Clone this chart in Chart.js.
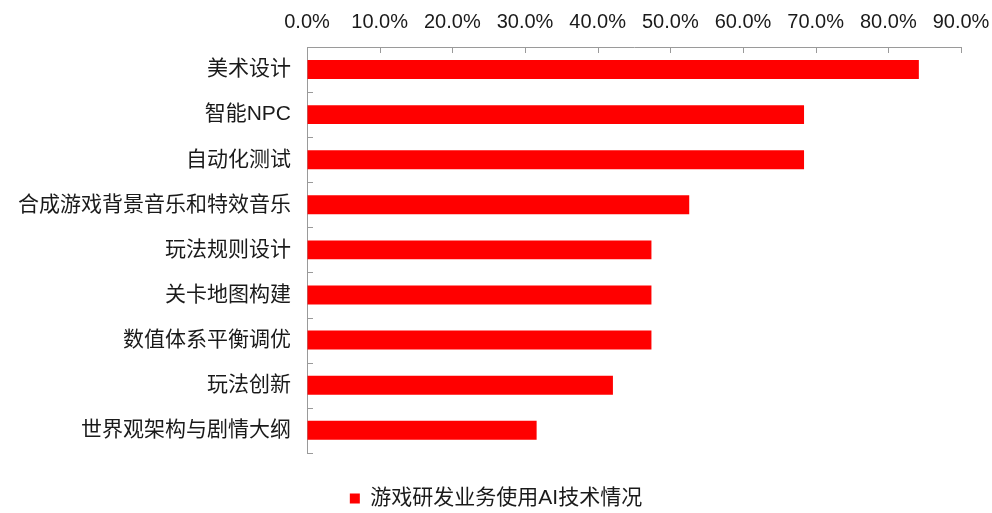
<!DOCTYPE html>
<html>
<head>
<meta charset="utf-8">
<script src="https://cdn.jsdelivr.net/npm/chart.js@4"></script>
<style>
  html, body { margin: 0; padding: 0; background: #fff; }
  #wrap { width: 992px; height: 513px; }
</style>
</head>
<body>
<div id="wrap"><canvas id="myChart"></canvas></div>
<script>
const categories = ['美术设计', '智能NPC', '自动化测试', '合成游戏背景音乐和特效音乐', '玩法规则设计',
  '关卡地图构建', '数值体系平衡调优', '玩法创新', '世界观架构与剧情大纲'];
const usage = [0.842, 0.684, 0.684, 0.526, 0.474, 0.474, 0.474, 0.421, 0.316];
const seriesName = '游戏研发业务使用AI技术情况';
const tickMax = 0.9;

const axisGray = '#9a9a9a';
const cjk = '"Liberation Sans", "Noto Sans CJK SC", sans-serif';

// inward tick marks, like the office-style axes
const innerTicks = {
  id: 'innerTicks',
  afterDraw(chart) {
    const { ctx, chartArea, scales } = chart;
    ctx.save();
    ctx.strokeStyle = axisGray;
    ctx.lineWidth = 1;
    ctx.beginPath();
    scales.x.ticks.forEach((t) => {
      const px = Math.round(scales.x.getPixelForValue(t.value)) + 0.5;
      ctx.moveTo(px, chartArea.top);
      ctx.lineTo(px, chartArea.top + 6);
    });
    const y = scales.y;
    const half = (y.getPixelForValue(1) - y.getPixelForValue(0)) / 2;
    for (let i = 0; i <= categories.length; i++) {
      const py = Math.round(y.getPixelForValue(i) - half) + 0.5;
      ctx.moveTo(chartArea.left, py);
      ctx.lineTo(chartArea.left + 6, py);
    }
    ctx.stroke();
    ctx.restore();
  }
};

const ctx = document.getElementById('myChart');

new Chart(ctx, {
  type: 'bar',
  data: {
    labels: categories,
    datasets: [{
      label: seriesName,
      data: usage,
      backgroundColor: 'rgb(255,0,0)',
      borderWidth: 0,
      barPercentage: 0.42,
      categoryPercentage: 1
    }]
  },
  options: {
    indexAxis: 'y',
    responsive: true,
    maintainAspectRatio: false,
    animation: false,
    layout: { padding: { top: 0, right: 0, bottom: -6, left: 0 } },
    scales: {
      x: {
        position: 'top',
        min: 0,
        max: tickMax,
        ticks: {
          stepSize: 0.1,
          padding: 13,
          color: '#1a1a1a',
          font: { family: '"Liberation Sans", Arial, sans-serif', size: 20 },
          callback: (v) => (v * 100).toFixed(1) + '%'
        },
        grid: { drawOnChartArea: false, drawTicks: false },
        border: { color: axisGray, width: 1 },
        afterFit(scale) {
          scale.height = 47;
          scale.paddingRight = 31;
        }
      },
      y: {
        ticks: {
          padding: 16,
          color: '#1a1a1a',
          font: { family: cjk, size: 21 }
        },
        grid: { drawOnChartArea: false, drawTicks: false },
        border: { color: axisGray, width: 1 },
        afterFit(scale) { scale.width = 307; }
      }
    },
    plugins: {
      legend: {
        position: 'bottom',
        title: { display: true, text: '', padding: { top: 34, bottom: 0 }, font: { size: 1 } },
        labels: {
          boxWidth: 10,
          boxHeight: 10,
          padding: 0,
          color: '#1a1a1a',
          font: { family: cjk, size: 21 }
        }
      },
      tooltip: { enabled: false }
    }
  },
  plugins: [innerTicks]
});
</script>
</body>
</html>
